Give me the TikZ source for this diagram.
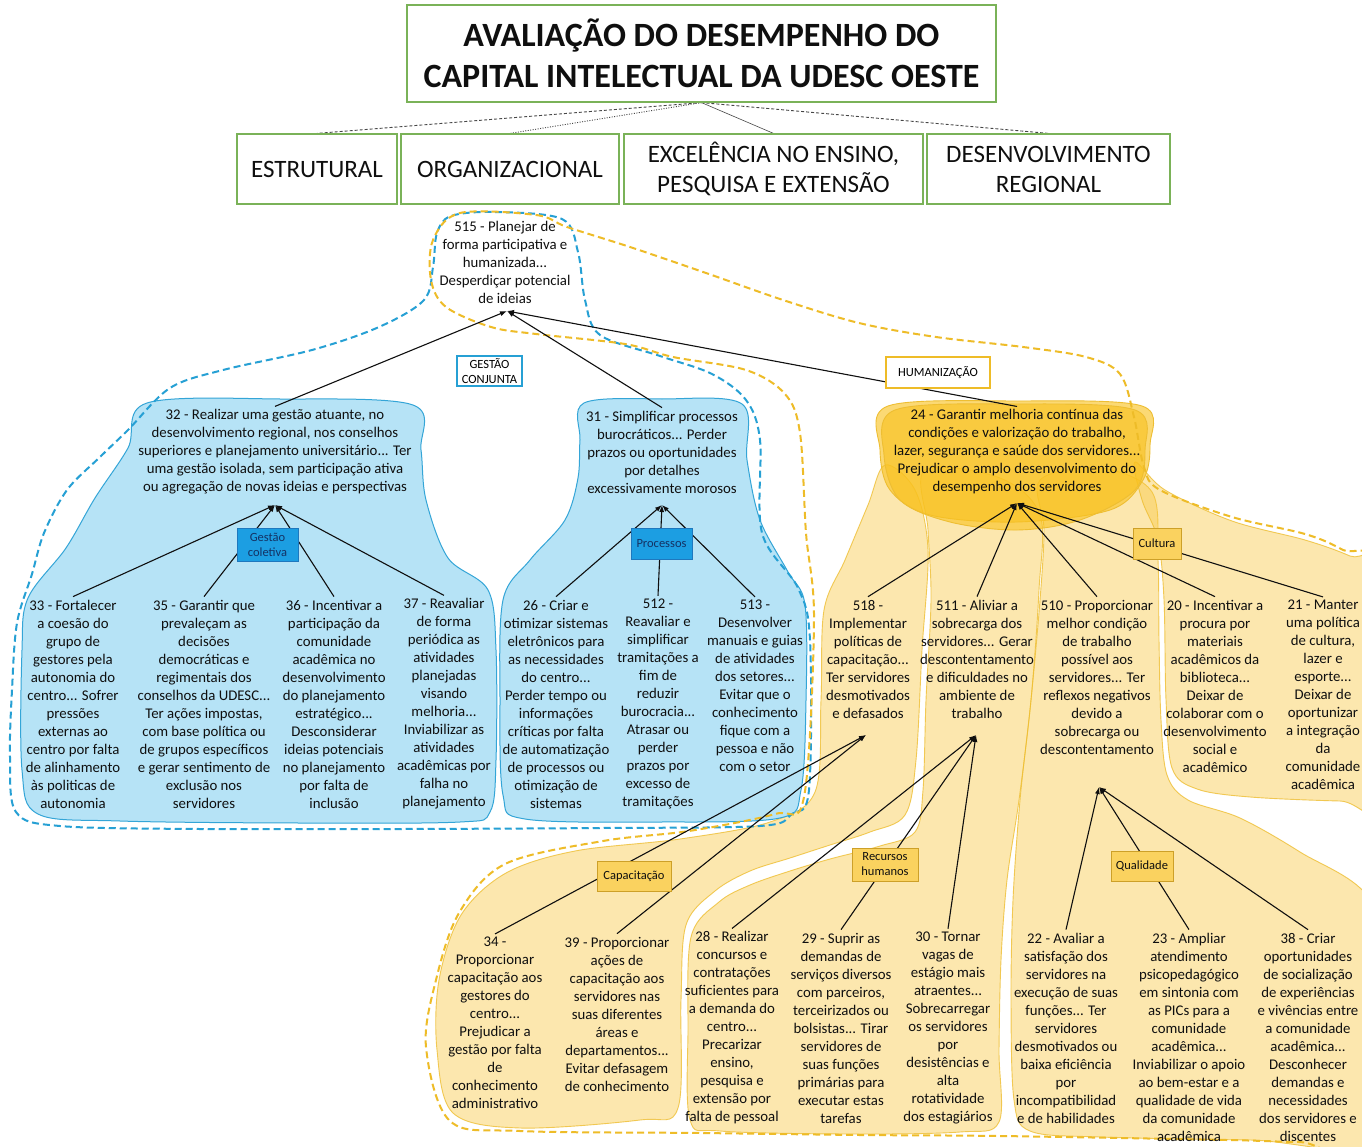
\documentclass[tikz,border=0pt]{standalone}
\usepackage{fontspec}
\setmainfont{Carlito}
\usetikzlibrary{arrows.meta}
\pgfdeclarelayer{blobs}
\pgfdeclarelayer{links}
\pgfsetlayers{blobs,links,main}

\definecolor{frameGreen}{RGB}{122,178,88}
\definecolor{skyFill}{RGB}{182,227,246}
\definecolor{skyLine}{RGB}{52,165,215}
\definecolor{skyDash}{RGB}{38,160,212}
\definecolor{tagBlue}{RGB}{28,158,226}
\definecolor{tagBlueLine}{RGB}{30,120,190}
\definecolor{tagBlueText}{RGB}{20,50,100}
\definecolor{sunLight}{RGB}{249,200,62}
\definecolor{sunLine}{RGB}{238,190,50}
\definecolor{sunDark}{RGB}{249,194,32}
\definecolor{sunDash}{RGB}{238,188,40}
\definecolor{tagSun}{RGB}{250,210,95}
\definecolor{tagSunLine}{RGB}{205,160,40}
\definecolor{ink}{RGB}{15,15,15}
\definecolor{greyLink}{RGB}{70,70,70}

\tikzset{
  txt/.style={align=center, font=\fontsize{14.8}{18}\selectfont, text=ink, inner sep=3pt},
  catbox/.style={draw=frameGreen, line width=1.2pt, align=center, fill=white,
    font=\fontsize{25}{30}\selectfont, inner sep=0pt, text=ink},
  tagbox/.style={draw, align=center, font=\fontsize{12.5}{15}\selectfont, inner sep=0pt, line width=1pt},
  bluetag/.style={tagbox, fill=tagBlue, draw=tagBlueLine, text=tagBlueText},
  suntag/.style={tagbox, fill=tagSun, draw=tagSunLine, text=ink},
  link/.style={draw=ink, line width=1.1pt, -{Latex[length=7pt,width=5pt]}},
  skyblob/.style={fill=skyFill, draw=skyLine, line width=1pt},
  sunblob/.style={fill=sunLight, fill opacity=0.42, draw=sunLine, draw opacity=0.8, line width=0.9pt},
  darkblob/.style={fill=sunDark, fill opacity=0.62, draw=sunLine, line width=0.9pt},
  skyfence/.style={draw=skyDash, line width=2pt, dash pattern=on 7pt off 4pt},
  sunfence/.style={draw=sunDash, line width=2pt, dash pattern=on 7pt off 4pt}
}

\begin{document}
\begin{tikzpicture}[x=1pt,y=-1pt]
\useasboundingbox (0,0) rectangle (1362,1147);

% ---------- header ----------
\node[catbox, minimum width=589pt, minimum height=97pt,
      font=\bfseries\fontsize{34}{41}\selectfont] (title) at (701.5,53.5)
  {AVALIAÇÃO DO DESEMPENHO DO\\CAPITAL INTELECTUAL DA UDESC OESTE};
\node[catbox, minimum width=160pt, minimum height=70pt] (cEstr) at (317,169) {ESTRUTURAL};
\node[catbox, minimum width=218pt, minimum height=70pt] (cOrg) at (510,169) {ORGANIZACIONAL};
\node[catbox, minimum width=299pt, minimum height=70pt] (cExc) at (773.5,169) {EXCELÊNCIA NO ENSINO,\\PESQUISA E EXTENSÃO};
\node[catbox, minimum width=243pt, minimum height=70pt] (cDes) at (1048.5,169) {DESENVOLVIMENTO\\REGIONAL};

% ---------- statements ----------
\node[txt] (n515) at (505,262) {515 - Planejar de\\forma participativa e\\humanizada...\\Desperdiçar potencial\\de ideias};

\node[txt] (n32) at (275,452) {32 - Realizar uma gestão atuante, no\\desenvolvimento regional, nos conselhos\\superiores e planejamento universitário... Ter\\uma gestão isolada, sem participação ativa\\ou agregação de novas ideias e perspectivas};
\node[txt] (n31) at (662,452) {31 - Simplificar processos\\burocráticos... Perder\\prazos ou oportunidades\\por detalhes\\excessivamente morosos};
\node[txt] (n24) at (1017,452) {24 - Garantir melhoria contínua das\\condições e valorização do trabalho,\\lazer, segurança e saúde dos servidores...\\Prejudicar o amplo desenvolvimento do\\desempenho dos servidores};

\node[txt] (n33) at (73,704) {33 - Fortalecer\\a coesão do\\grupo de\\gestores pela\\autonomia do\\centro... Sofrer\\pressões\\externas ao\\centro por falta\\de alinhamento\\às politicas de\\autonomia};
\node[txt] (n35) at (204,704) {35 - Garantir que\\prevaleçam as\\decisões\\democráticas e\\regimentais dos\\conselhos da UDESC...\\Ter ações impostas,\\com base política ou\\de grupos específicos\\e gerar sentimento de\\exclusão nos\\servidores};
\node[txt] (n36) at (334,704) {36 - Incentivar a\\participação da\\comunidade\\acadêmica no\\desenvolvimento\\do planejamento\\estratégico...\\Desconsiderar\\ideias potenciais\\no planejamento\\por falta de\\inclusão};
\node[txt] (n37) at (444,704) {37 - Reavaliar\\de forma\\periódica as\\atividades\\planejadas\\visando\\melhoria...\\Inviabilizar as\\atividades\\acadêmicas por\\falha no\\planejamento};

\node[txt] (n26) at (556,704) {26 - Criar e\\otimizar sistemas\\eletrônicos para\\as necessidades\\do centro...\\Perder tempo ou\\informações\\críticas por falta\\de automatização\\de processos ou\\otimização de\\sistemas};
\node[txt] (n512) at (658,704) {512 -\\Reavaliar e\\simplificar\\tramitações a\\fim de\\reduzir\\burocracia...\\Atrasar ou\\perder\\prazos por\\excesso de\\tramitações};
\node[txt] (n513) at (755,686) {513 -\\Desenvolver\\manuais e guias\\de atividades\\dos setores...\\Evitar que o\\conhecimento\\fique com a\\pessoa e não\\com o setor};

\node[txt] (n518) at (868,659) {518 -\\Implementar\\políticas de\\capacitação...\\Ter servidores\\desmotivados\\e defasados};
\node[txt] (n511) at (977,659) {511 - Aliviar a\\sobrecarga dos\\servidores... Gerar\\descontentamento\\e dificuldades no\\ambiente de\\trabalho};
\node[txt] (n510) at (1097,677) {510 - Proporcionar\\melhor condição\\de trabalho\\possível aos\\servidores... Ter\\reflexos negativos\\devido a\\sobrecarga ou\\descontentamento};
\node[txt] (n20) at (1215,686) {20 - Incentivar a\\procura por\\materiais\\acadêmicos da\\biblioteca...\\Deixar de\\colaborar com o\\desenvolvimento\\social e\\acadêmico};
\node[txt] (n21) at (1323,695) {21 - Manter\\uma política\\de cultura,\\lazer e\\esporte...\\Deixar de\\oportunizar\\a integração\\da\\comunidade\\acadêmica};

\node[txt] (n34) at (495,1023) {34 -\\Proporcionar\\capacitação aos\\gestores do\\centro...\\Prejudicar a\\gestão por falta\\de\\conhecimento\\administrativo};
\node[txt] (n39) at (617,1014) {39 - Proporcionar\\ações de\\capacitação aos\\servidores nas\\suas diferentes\\áreas e\\departamentos...\\Evitar defasagem\\de conhecimento};
\node[txt] (n28) at (732,1028) {28 - Realizar\\concursos e\\contratações\\suficientes para\\a demanda do\\centro...\\Precarizar\\ensino,\\pesquisa e\\extensão por\\falta de pessoal};
\node[txt] (n29) at (841,1028) {29 - Suprir as\\demandas de\\serviços diversos\\com parceiros,\\terceirizados ou\\bolsistas... Tirar\\servidores de\\suas funções\\primárias para\\executar estas\\tarefas};
\node[txt] (n30) at (948,1028) {30 - Tornar\\vagas de\\estágio mais\\atraentes...\\Sobrecarregar\\os servidores\\por\\desistências e\\alta\\rotatividade\\dos estagiários};
\node[txt] (n22) at (1066,1028) {22 - Avaliar a\\satisfação dos\\servidores na\\execução de suas\\funções... Ter\\servidores\\desmotivados ou\\baixa eficiência\\por\\incompatibilidad\\e de habilidades};
\node[txt] (n23) at (1189,1037) {23 - Ampliar\\atendimento\\psicopedagógico\\em sintonia com\\as PICs para a\\comunidade\\acadêmica...\\Inviabilizar o apoio\\ao bem-estar e a\\qualidade de vida\\da comunidade\\acadêmica};
\node[txt] (n38) at (1308,1037) {38 - Criar\\oportunidades\\de socialização\\de experiências\\e vivências entre\\a comunidade\\acadêmica...\\Desconhecer\\demandas e\\necessidades\\dos servidores e\\discentes};

% ---------- group tags ----------
\node[tagbox, fill=white, draw=skyDash, line width=2pt, minimum width=65pt, minimum height=30pt] (tGC) at (489.5,371) {GESTÃO\\CONJUNTA};
\node[tagbox, fill=white, draw=sunDash, line width=2pt, minimum width=104pt, minimum height=31pt] (tHum) at (938,372.5) {HUMANIZAÇÃO};
\node[bluetag, minimum width=61pt, minimum height=33pt] (tGCol) at (267.5,544.5) {Gestão\\coletiva};
\node[bluetag, minimum width=61pt, minimum height=31pt] (tProc) at (661.5,543.5) {Processos};
\node[suntag, minimum width=48pt, minimum height=31pt] (tCult) at (1157,543.5) {Cultura};
\node[suntag, minimum width=74pt, minimum height=30pt] (tCap) at (634,876) {Capacitação};
\node[suntag, minimum width=66pt, minimum height=33pt] (tRH) at (885,864.5) {Recursos\\humanos};
\node[suntag, minimum width=62pt, minimum height=30pt] (tQual) at (1142,866) {Qualidade};

% arrow meeting points under each parent statement
\coordinate (t515) at (507,311);
\coordinate (t32) at (275,505);
\coordinate (t31) at (662,505);
\coordinate (t24) at (1017,503);
\coordinate (t518) at (866,735);
\coordinate (t511) at (976,735);
\coordinate (t510) at (1099,787);

% ---------- connectors ----------
\begin{pgfonlayer}{links}
  \draw[greyLink, line width=0.9pt, dash pattern=on 3pt off 2pt] (title.south) -- (cEstr.north);
  \draw[greyLink, line width=0.9pt, dash pattern=on 1pt off 1.5pt] (title.south) -- (cOrg.north);
  \draw[greyLink, line width=0.6pt] (title.south) -- (cExc.north);
  \draw[greyLink, line width=0.9pt, dash pattern=on 3pt off 2pt] (title.south) -- (cDes.north);

  \foreach \c in {n32,n31,n24} \draw[link] (\c.north) -- (t515);
  \foreach \c in {n33,n35,n36,n37} \draw[link] (\c.north) -- (t32);
  \foreach \c in {n26,n512,n513} \draw[link] (\c.north) -- (t31);
  \foreach \c in {n518,n511,n510,n20,n21} \draw[link] (\c.north) -- (t24);
  \foreach \c in {n34,n39} \draw[link] (\c.north) -- (t518);
  \foreach \c in {n28,n29,n30} \draw[link] (\c.north) -- (t511);
  \foreach \c in {n22,n23,n38} \draw[link] (\c.north) -- (t510);
\end{pgfonlayer}

% ---------- regions ----------
\begin{pgfonlayer}{blobs}
  \fill[white] (0,0) rectangle (1362,1147);
  \begin{scope}
  \clip (0,0) rectangle (1362,1147);

  % humanization clusters
  \path[sunblob] plot[smooth cycle, tension=0.55] coordinates {
    (885,465) (915,490) (928,550) (922,650) (916,760) (905,815) (870,832) (830,845)
    (790,858) (750,871) (715,891) (686,925) (681,1000) (678,1108) (640,1120) (520,1128)
    (453,1113) (437,1050) (439,980) (461,915) (506,873) (575,851) (680,839) (770,822)
    (815,792) (821,700) (824,610) (845,560) (868,505)};
  \path[sunblob] plot[smooth cycle, tension=0.55] coordinates {
    (925,470) (1000,478) (1040,515) (1039,590) (1031,700) (1019,800) (1007,880) (1001,960)
    (999,1050) (999,1122) (960,1132) (850,1134) (720,1131) (690,1120) (688,1030) (691,937)
    (719,902) (750,885) (790,871) (830,859) (880,846) (915,832) (923,790) (926,700)
    (931,600) (928,530)};
  \path[sunblob] plot[smooth cycle, tension=0.55] coordinates {
    (1040,480) (1100,468) (1152,492) (1158,560) (1159,640) (1161,720) (1167,775) (1188,800)
    (1240,818) (1300,852) (1370,900) (1385,1000) (1385,1141) (1250,1140) (1100,1137)
    (1030,1131) (1014,1100) (1011,1000) (1013,900) (1020,800) (1031,700) (1040,600) (1044,530)};
  \path[sunblob] plot[smooth cycle, tension=0.55] coordinates {
    (1135,462) (1165,490) (1232,521) (1305,540) (1350,556) (1385,575) (1385,800) (1340,801)
    (1250,797) (1197,789) (1172,768) (1166,700) (1164,600) (1158,540) (1142,500)};

  \path[darkblob] plot[smooth cycle, tension=0.55] coordinates {
    (888,406) (1017,401) (1142,406) (1150,445) (1143,480) (1110,510) (1017,522) (930,515)
    (890,490) (880,450)};
  \path[darkblob] plot[smooth cycle, tension=0.55] coordinates {
    (895,410) (1017,404) (1135,410) (1145,450) (1135,490) (1080,520) (1017,530) (950,522)
    (900,500) (884,455)};

  % joint management clusters
  \path[skyblob] plot[smooth cycle, tension=0.55] coordinates {
    (147,403) (280,399) (413,405) (421,450) (426,500) (448,558) (488,590) (496,650)
    (496,760) (490,812) (460,822) (300,823) (120,821) (38,814) (22,770) (22,650)
    (28,598) (66,548) (95,498) (128,448)};
  \path[skyblob] plot[smooth cycle, tension=0.55] coordinates {
    (584,403) (662,399) (742,404) (747,460) (760,520) (788,572) (805,605) (806,700)
    (801,790) (780,818) (660,822) (525,819) (503,795) (500,700) (503,600) (530,560)
    (565,520) (578,478) (580,440)};

  % dashed fences
  \path[skyfence] plot[smooth cycle, tension=0.55] coordinates {
    (451,216) (495,212) (562,219) (578,252) (585,300) (600,335) (660,356) (712,374)
    (746,400) (760,440) (762,533) (798,588) (810,640) (809,790) (792,814) (760,826)
    (600,828) (400,829) (200,829) (60,826) (16,812) (10,757) (12,690) (17,623)
    (32,574) (44,533) (67,490) (100,457) (128,430) (170,388) (223,370) (312,350)
    (379,327) (424,300) (433,267) (437,233)};
  \path[sunfence] plot[smooth cycle, tension=0.55] coordinates {
    (460,213) (536,215) (567,227) (630,247) (706,273) (783,300) (859,323) (936,337)
    (1023,347) (1086,357) (1120,374) (1134,417) (1144,467) (1160,490) (1232,517)
    (1305,534) (1343,550) (1380,575) (1390,800) (1390,1141) (1300,1142) (1227,1140)
    (1000,1136) (860,1135) (700,1133) (520,1131) (450,1121) (426,1047) (436,980)
    (459,913) (505,864) (603,841) (689,831) (775,814) (804,797) (814,620) (806,533)
    (800,433) (785,394) (746,370) (673,357) (625,344) (536,334) (491,327) (446,307)
    (431,280) (433,240)};
  \end{scope}
\end{pgfonlayer}
\end{tikzpicture}
\end{document}
